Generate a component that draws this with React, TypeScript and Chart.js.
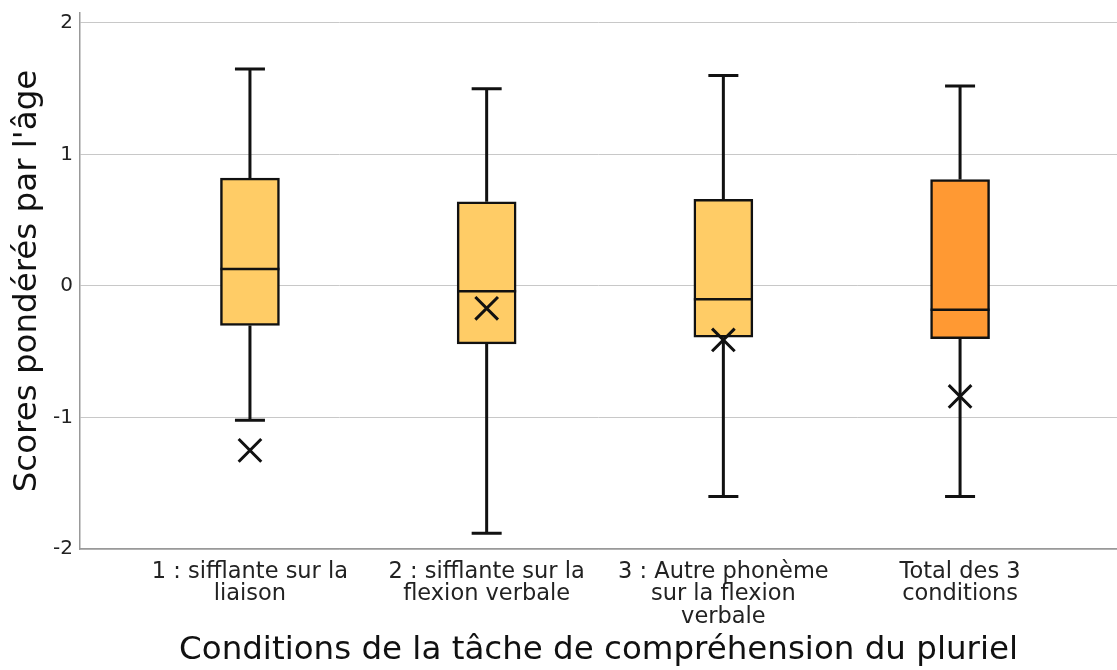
import React, { useEffect, useRef } from "react";
import { Chart, registerables } from "chart.js";

Chart.register(...registerables);

const categories: string[][] = [
  ["1 : sifflante sur la", "liaison"],
  ["2 : sifflante sur la", "flexion verbale"],
  ["3 : Autre phonème", "sur la flexion", "verbale"],
  ["Total des 3", "conditions"],
];
const whiskerMax = [1.65, 1.5, 1.6, 1.52];
const q3 = [0.82, 0.64, 0.66, 0.81];
const median = [0.13, -0.04, -0.1, -0.18];
const q1 = [-0.3, -0.44, -0.39, -0.4];
const whiskerMin = [-1.02, -1.88, -1.6, -1.6];
const means = [-1.25, -0.17, -0.41, -0.84];
const yTicks = [-2, -1, 0, 1, 2];
const positions = [1, 2, 3, 4];

const boxColors = ["#FFCC66", "#FFCC66", "#FFCC66", "#FF9933"];
const FONT = "'DejaVu Sans', Verdana, sans-serif";
const BOX_W = 59;
const CAP_HALF = 15;

const boxPlugin = {
  id: "boxExtras",
  beforeDatasetsDraw(chart: any) {
    const { ctx, scales } = chart;
    const xs = scales.x;
    const ys = scales.y;
    ctx.save();
    ctx.strokeStyle = "#111";
    ctx.lineWidth = 3;
    positions.forEach((p, i) => {
      const x = xs.getPixelForValue(p);
      const yMax = ys.getPixelForValue(whiskerMax[i]);
      const yQ3 = ys.getPixelForValue(q3[i]);
      const yQ1 = ys.getPixelForValue(q1[i]);
      const yMin = ys.getPixelForValue(whiskerMin[i]);
      ctx.beginPath();
      ctx.moveTo(x, yQ3);
      ctx.lineTo(x, yMax);
      ctx.moveTo(x - CAP_HALF, yMax);
      ctx.lineTo(x + CAP_HALF, yMax);
      ctx.moveTo(x, yQ1);
      ctx.lineTo(x, yMin);
      ctx.moveTo(x - CAP_HALF, yMin);
      ctx.lineTo(x + CAP_HALF, yMin);
      ctx.stroke();
    });
    ctx.restore();
  },
  afterDatasetDraw(chart: any, args: any) {
    if (args.index !== 0) return;
    const { ctx, scales } = chart;
    const xs = scales.x;
    const ys = scales.y;
    ctx.save();
    ctx.strokeStyle = "#111";
    ctx.lineWidth = 2.5;
    positions.forEach((p, i) => {
      const x = xs.getPixelForValue(p);
      const y = ys.getPixelForValue(median[i]);
      ctx.beginPath();
      ctx.moveTo(x - BOX_W / 2, y);
      ctx.lineTo(x + BOX_W / 2, y);
      ctx.stroke();
    });
    ctx.restore();
  },
};

export default function App() {
  const ref = useRef<HTMLCanvasElement | null>(null);
  useEffect(() => {
    document.body.style.margin = "0";
    if (!ref.current) return;
    const chart = new Chart(ref.current, {
      type: "bar",
      data: {
        datasets: [
          {
            type: "bar",
            data: positions.map((p, i) => ({ x: p, y: [q1[i], q3[i]] })) as any,
            backgroundColor: boxColors,
            borderColor: "#111",
            borderWidth: 2.5,
            borderSkipped: false,
            barThickness: BOX_W,
            order: 2,
          } as any,
          {
            type: "scatter",
            data: positions.map((p, i) => ({ x: p, y: means[i] })),
            pointStyle: "crossRot",
            pointRadius: 16,
            pointBorderWidth: 3,
            borderColor: "#111",
            backgroundColor: "#111",
            order: 1,
          } as any,
        ],
      },
      options: {
        animation: false,
        responsive: false,
        maintainAspectRatio: false,
        layout: { autoPadding: false, padding: { top: 13, right: 0, left: 0, bottom: 0 } },
        plugins: { legend: { display: false }, tooltip: { enabled: false } },
        scales: {
          x: {
            type: "linear",
            offset: false,
            min: 0.282,
            max: 4.663,
            grid: { display: false },
            border: { display: true, color: "#999", width: 1.5 },
            afterBuildTicks: (scale: any) => {
              scale.ticks = positions.map((v) => ({ value: v }));
            },
            afterFit: (scale: any) => {
              scale.height = 121;
              scale.paddingLeft = 0;
              scale.paddingRight = 0;
            },
            ticks: {
              autoSkip: false,
              maxRotation: 0,
              padding: 4,
              color: "#222",
              font: { family: FONT, size: 22.5, lineHeight: 0.99 },
              callback: (v: any) => categories[positions.indexOf(Number(v))] ?? "",
            },
            title: {
              display: true,
              text: "Conditions de la tâche de compréhension du pluriel",
              color: "#111",
              font: { family: FONT, size: 32.5 },
              padding: { top: 0, bottom: 0 },
            },
          },
          y: {
            type: "linear",
            min: -2,
            max: 2.076,
            afterBuildTicks: (scale: any) => {
              scale.ticks = yTicks.map((v) => ({ value: v }));
            },
            afterFit: (scale: any) => {
              scale.width = 80;
              scale.paddingTop = 0;
              scale.paddingBottom = 0;
            },
            grid: { color: "#c8c8c8", lineWidth: 1, drawTicks: false },
            border: { display: true, color: "#999", width: 1.5 },
            ticks: {
              padding: 7,
              color: "#222",
              font: { family: FONT, size: 20 },
              callback: (v: any) => (Number(v) < 0 ? "-" + Math.abs(Number(v)) : String(v)),
            },
            title: {
              display: true,
              text: "Scores pondérés par l'âge",
              color: "#111",
              font: { family: FONT, size: 32.5 },
              padding: { top: 8, bottom: 0 },
            },
          },
        },
      },
      plugins: [boxPlugin],
    });
    return () => chart.destroy();
  }, []);
  return (
    <div style={{ width: 1117, height: 670 }}>
      <canvas ref={ref} width={1117} height={670} style={{ display: "block" }} />
    </div>
  );
}
